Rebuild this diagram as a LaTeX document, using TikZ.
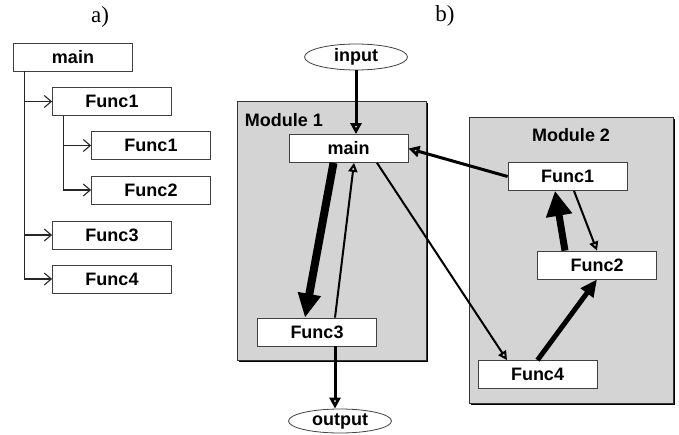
\documentclass[tikz,border=0pt]{standalone}
\usepackage{fontspec}
\setmainfont{Liberation Sans}
\newfontfamily\panelfont{Liberation Serif}
\usetikzlibrary{arrows.meta}
\usetikzlibrary{shapes.geometric, shadows}

\tikzset{
	func/.style={draw=black!75, line width=0.8pt, fill=white, inner sep=0pt,
		minimum width=119pt, minimum height=28pt,
		font=\fontsize{18}{18}\selectfont\bfseries},
	io/.style={ellipse, draw=black!75, line width=0.8pt, fill=white, inner sep=0pt,
		minimum width=103pt, minimum height=26pt,
		font=\fontsize{18}{18}\selectfont\bfseries},
	module/.style={draw=black!80, line width=0.8pt, fill=black!17, inner sep=0pt,
		drop shadow={shadow xshift=2pt, shadow yshift=-2pt, fill=black, opacity=1}},
	modlabel/.style={inner sep=0pt, font=\fontsize{18}{18}\selectfont\bfseries},
	panel/.style={font=\panelfont\fontsize{23}{23}\selectfont},
	branch/.style={line width=1.1pt, black!85, -{Straight Barb[length=7pt,width=12pt]}},
	flow/.style={line width=2pt, -{Triangle[open, length=9pt, width=9pt]}},
	heavy/.style={line width=3pt, -{Triangle[open, length=11pt, width=11pt]}}
}

\begin{document}
\begin{tikzpicture}[x=1pt, y=-1pt]
	\useasboundingbox (0,0) rectangle (679,434);
	
	%panel labels
	\node[panel] (la) at (100,17) {a)};
	\node[panel] (lb) at (445,16) {b)};
	
	%call tree
	\node[func] (ma) at (73,57) {main};
	\node[func] (fa1) at (112,101.5) {Func1};
	\node[func] (fa11) at (151,145.5) {Func1};
	\node[func] (fa12) at (151,190) {Func2};
	\node[func] (fa3) at (112,235) {Func3};
	\node[func] (fa4) at (112,279) {Func4};
	
	\draw[branch] (ma.south west) ++(11pt,0) coordinate (trunk) |- (fa4.west);
	\draw[branch] (trunk |- fa1.west) -- (fa1.west);
	\draw[branch] (trunk |- fa3.west) -- (fa3.west);
	\draw[branch] (fa1.south west) ++(11pt,0) coordinate (twig) |- (fa12.west);
	\draw[branch] (twig |- fa11.west) -- (fa11.west);
	
	%modules
	\node[module, minimum width=189pt, minimum height=259pt] (mod1) at (331.5,230.5) {};
	\node[module, minimum width=204pt, minimum height=286pt] (mod2) at (571,260) {};
	\node[modlabel, anchor=west] (mod1lab) at ([shift={(8pt,-19pt)}]mod1.north west) {Module 1};
	\node[modlabel] (mod2lab) at ([yshift=-18pt]mod2.north) {Module 2};
	
	%call graph
	\node[io] (input) at (356,57) {input};
	\node[io, minimum height=24pt] (output) at (340,421) {output};
	\node[func] (mb) at (348.5,148.5) {main};
	\node[func] (fb3) at (317,332) {Func3};
	\node[func] (fb1) at (567.5,176.5) {Func1};
	\node[func] (fb2) at (597,265) {Func2};
	\node[func] (fb4) at (537.5,374.5) {Func4};
	
	%arrows
	\draw[heavy] (input.south) -- ([xshift=7.5pt]mb.north);
	\draw[heavy] ([xshift=18pt]fb3.south) -- ([xshift=-5pt]output.north);
	\draw[heavy] (fb1.west) -- (mb.east);
	\draw[line width=8pt, -{Triangle[length=24pt, width=22pt]}] ([xshift=-15pt]mb.south) -- ([xshift=-12pt]fb3.north);
	\draw[flow] ([xshift=18pt]fb3.north) -- ([xshift=5.5pt]mb.south);
	\draw[flow] ([xshift=28.5pt]mb.south) -- ([xshift=-30.5pt]fb4.north);
	\draw[flow] ([xshift=6.5pt]fb1.south) -- (fb2.north);
	\draw[line width=7pt, -{Triangle[length=25pt, width=25pt]}] ([xshift=-32pt]fb2.north) -- ([xshift=-12.5pt]fb1.south);
	\draw[line width=5pt, -{Triangle[length=17pt, width=15pt]}] (fb4.north) -- (fb2.south);
	
\end{tikzpicture}
\end{document}
